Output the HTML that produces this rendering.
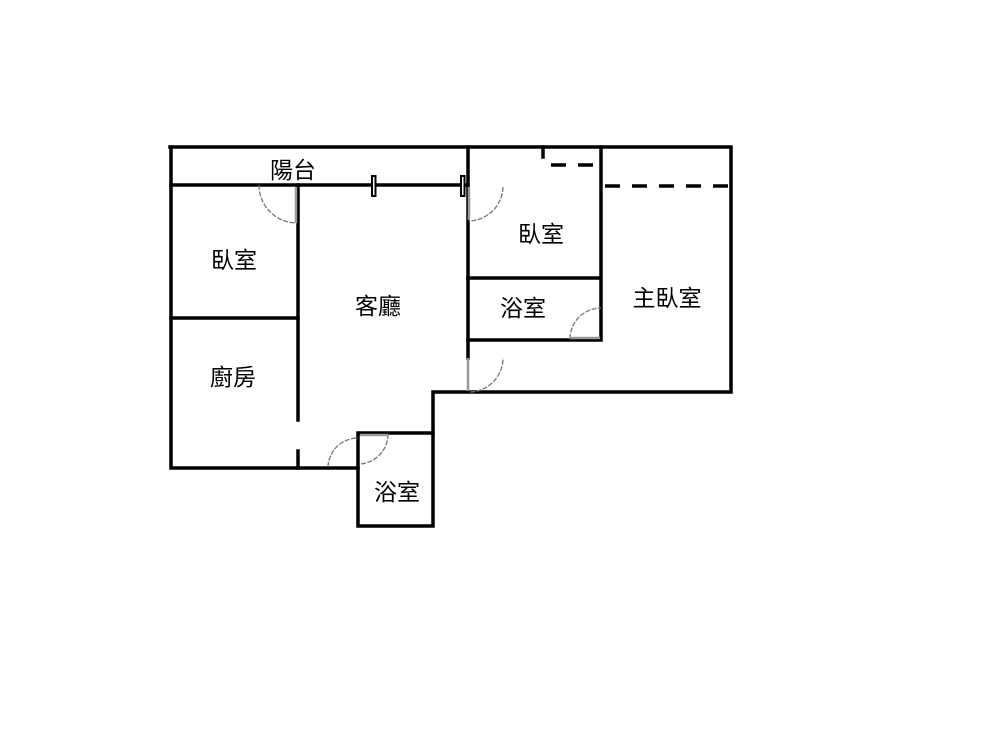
<!DOCTYPE html>
<html><head><meta charset="utf-8"><style>body{margin:0;background:#fff}svg{display:block}</style></head><body>
<svg width="1000" height="750" xmlns="http://www.w3.org/2000/svg">
<g stroke="#000" stroke-width="3.5" fill="none" stroke-linecap="square">
<path d="M170 147 H731 V392 H433 V433"/>
<path d="M171 147 V468 H358"/>
<path d="M298 451 V468"/>
<path d="M358 433 H433 V526 H358 Z"/>
<path d="M171 185 H468"/>
<path d="M298 185 V420"/>
<path d="M171 318 H298"/>
<path d="M468 147 V358"/>
<path d="M468 278 H601 M468 340 H601 M601 147 V340"/>
<path d="M543 147 V157"/>
</g>
<g stroke="#000" stroke-width="3.5" stroke-dasharray="15,12">
<line x1="551" y1="165" x2="601" y2="165"/>
<line x1="605" y1="186" x2="731" y2="186"/>
</g>
<g fill="#fff" stroke="#000" stroke-width="2">
<rect x="372" y="176" width="3.5" height="20"/>
<rect x="461" y="176" width="3.5" height="20"/>
</g>
<g stroke="#777" stroke-width="1.3" fill="none" stroke-dasharray="5,1.5">
<path d="M259 185 A38 38 0 0 0 297 223"/>
<path d="M503 187 A35 35 0 0 1 469 221"/>
<path d="M570 339 A31 31 0 0 1 601 308"/>
<path d="M470 392 A34 34 0 0 0 503 358"/>
<path d="M328 467 A30 30 0 0 1 358 438"/>
<path d="M388 434 A30 30 0 0 1 360 464"/>
</g>
<g stroke="#999" stroke-width="2.5">
<line x1="296" y1="187" x2="296" y2="223"/>
<line x1="469" y1="187" x2="469" y2="220"/>
<line x1="570" y1="338" x2="600" y2="338"/>
<line x1="468" y1="358" x2="468" y2="391"/>
<line x1="360" y1="435" x2="388" y2="435"/>
</g>
<g font-family="Liberation Sans, Noto Sans CJK TC, sans-serif" font-size="23" text-anchor="middle" fill="#000">
<text x="293" y="178">陽台</text>
<text x="234" y="268">臥室</text>
<text x="378" y="314">客廳</text>
<text x="233" y="385">廚房</text>
<text x="397" y="500">浴室</text>
<text x="541" y="242">臥室</text>
<text x="523" y="316">浴室</text>
<text x="667" y="306">主臥室</text>
</g>
</svg>
</body></html>
